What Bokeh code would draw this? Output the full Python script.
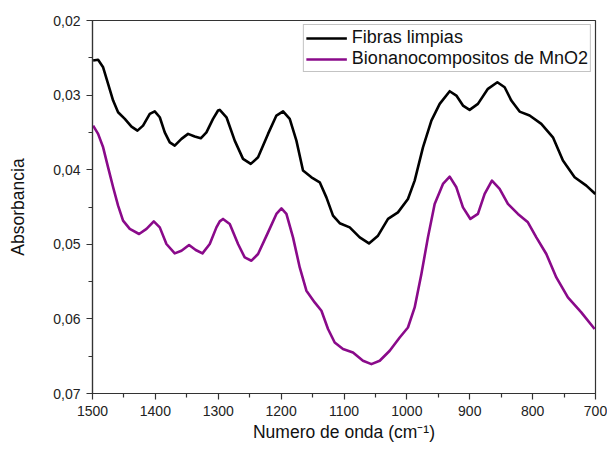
from bokeh.plotting import figure
from bokeh.models import Range1d, FixedTicker, CustomJSTickFormatter, Legend, LegendItem
from bokeh.embed import file_html
from bokeh.resources import INLINE

# Wavenumber (cm-1) and absorbance readings
fibras_x = [1499.0, 1491.1, 1483.1, 1475.2, 1467.2, 1459.3, 1448.6, 1438.0, 1428.5, 1419.6,
            1408.9, 1401.0, 1393.0, 1385.1, 1377.1, 1369.2, 1358.5, 1348.0, 1337.4, 1327.8,
            1318.8, 1308.3, 1300.3, 1297.6, 1286.9, 1273.8, 1260.6, 1248.3, 1236.7, 1220.8,
            1207.5, 1196.9, 1186.3, 1175.7, 1165.2, 1151.8, 1138.6, 1128.0, 1117.5, 1106.8,
            1090.9, 1075.0, 1060.3, 1045.9, 1030.0, 1014.2, 998.3, 987.6, 974.4, 961.0,
            947.8, 931.9, 921.3, 910.8, 900.2, 887.0, 871.1, 856.1, 844.5, 833.9,
            820.7, 804.8, 786.2, 767.7, 751.8, 733.2, 714.6, 700.3]
fibras_y = [0.02537, 0.02527, 0.02627, 0.02849, 0.03073, 0.03230, 0.03319, 0.03422, 0.03476, 0.03409,
            0.03252, 0.03217, 0.03297, 0.03499, 0.03633, 0.03677, 0.03587, 0.03520, 0.03556, 0.03579,
            0.03499, 0.03319, 0.03207, 0.03198, 0.03297, 0.03610, 0.03855, 0.03922, 0.03834, 0.03520,
            0.03274, 0.03217, 0.03319, 0.03610, 0.04012, 0.04102, 0.04169, 0.04371, 0.04616, 0.04717,
            0.04773, 0.04907, 0.04988, 0.04884, 0.04660, 0.04572, 0.04392, 0.04146, 0.03700, 0.03342,
            0.03118, 0.02948, 0.03006, 0.03140, 0.03198, 0.03118, 0.02916, 0.02828, 0.02895, 0.03073,
            0.03221, 0.03274, 0.03386, 0.03566, 0.03878, 0.04102, 0.04214, 0.04325]

mno2_x = [1499.0, 1491.1, 1483.1, 1475.2, 1467.2, 1459.3, 1451.4, 1440.7, 1425.9, 1414.1,
          1402.5, 1393.0, 1382.4, 1369.2, 1358.5, 1346.4, 1335.8, 1325.1, 1313.5, 1302.9,
          1297.6, 1292.4, 1281.7, 1268.5, 1257.9, 1247.2, 1236.7, 1220.8, 1207.5, 1199.5,
          1191.6, 1181.1, 1170.4, 1159.8, 1146.6, 1135.9, 1125.4, 1114.8, 1101.6, 1085.7,
          1069.8, 1056.4, 1043.2, 1027.3, 1011.4, 998.3, 987.6, 976.9, 966.5, 955.8,
          942.6, 931.9, 921.3, 910.8, 899.0, 887.0, 876.3, 864.7, 852.5, 839.3,
          823.4, 807.5, 794.1, 778.2, 762.3, 743.9, 722.6, 701.4]
mno2_y = [0.03409, 0.03520, 0.03700, 0.03968, 0.04236, 0.04482, 0.04683, 0.04794, 0.04862, 0.04794,
          0.04693, 0.04773, 0.04996, 0.05122, 0.05086, 0.05009, 0.05076, 0.05122, 0.04996, 0.04773,
          0.04693, 0.04660, 0.04727, 0.04996, 0.05176, 0.05220, 0.05130, 0.04840, 0.04593, 0.04518,
          0.04593, 0.04907, 0.05310, 0.05622, 0.05779, 0.05891, 0.06136, 0.06316, 0.06404, 0.06450,
          0.06561, 0.06606, 0.06561, 0.06427, 0.06249, 0.06115, 0.05846, 0.05398, 0.04907, 0.04459,
          0.04191, 0.04093, 0.04236, 0.04505, 0.04660, 0.04593, 0.04325, 0.04146, 0.04258, 0.04459,
          0.04593, 0.04706, 0.04907, 0.05130, 0.05444, 0.05712, 0.05913, 0.06136]

x_ticks = [700, 800, 900, 1000, 1100, 1200, 1300, 1400, 1500]
x_minor = [750, 850, 950, 1050, 1150, 1250, 1350, 1450]
y_ticks = [0.02, 0.03, 0.04, 0.05, 0.06, 0.07]
y_minor = [0.025, 0.035, 0.045, 0.055, 0.065]

series_names = ["Fibras limpias", "Bionanocompositos de MnO2"]
series_colors = ["#000000", "#8a0a8a"]

FONT = "Liberation Sans"
AX = "#333333"

p = figure(frame_width=503, frame_height=373, output_backend="svg", toolbar_location=None,
           x_range=Range1d(1500, 700), y_range=Range1d(0.07, 0.02),
           min_border_left=92, min_border_top=20, min_border_right=12, min_border_bottom=56)
p.background_fill_color = "white"
p.border_fill_color = "white"
p.outline_line_color = AX
p.outline_line_width = 1.2
p.xgrid.visible = False
p.ygrid.visible = False

r1 = p.line(fibras_x, fibras_y, line_color=series_colors[0], line_width=2.6, line_join="round")
r2 = p.line(mno2_x, mno2_y, line_color=series_colors[1], line_width=2.6, line_join="round")

xa = p.xaxis[0]
xa.ticker = FixedTicker(ticks=x_ticks, minor_ticks=x_minor)
xa.axis_label = "Numero de onda (cm⁻¹)"
ya = p.yaxis[0]
ya.ticker = FixedTicker(ticks=y_ticks, minor_ticks=y_minor)
ya.formatter = CustomJSTickFormatter(code="return tick.toFixed(2).replace('.', ',');")
ya.axis_label = "Absorbancia"

for ax in (xa, ya):
    ax.axis_line_color = AX
    ax.axis_line_width = 1.2
    ax.major_tick_line_color = AX
    ax.minor_tick_line_color = AX
    ax.major_tick_line_width = 1.2
    ax.minor_tick_line_width = 1.2
    ax.major_tick_out = 6
    ax.major_tick_in = 0
    ax.minor_tick_out = 4
    ax.minor_tick_in = 0
    ax.major_label_text_font = FONT
    ax.major_label_text_font_size = "14px"
    ax.major_label_text_color = "#222222"
    ax.major_label_standoff = 6
    ax.axis_label_text_font = FONT
    ax.axis_label_text_font_size = "17.5px"
    ax.axis_label_text_font_style = "normal"
    ax.axis_label_text_color = "#111111"

xa.axis_label_standoff = 3
ya.axis_label_standoff = 22

legend = Legend(items=[LegendItem(label=series_names[0], renderers=[r1]),
                       LegendItem(label=series_names[1], renderers=[r2])],
                location="top_right")
legend.margin = 4
legend.padding = 2
legend.spacing = 0
legend.glyph_width = 41
legend.glyph_height = 20
legend.label_height = 20
legend.label_standoff = 5
legend.label_text_font = FONT
legend.label_text_font_size = "18px"
legend.label_text_color = "#111111"
legend.border_line_color = "#888888"
legend.border_line_width = 1
legend.background_fill_color = "white"
legend.background_fill_alpha = 1.0
p.add_layout(legend, "center")

open("out.html", "w").write(file_html(p, INLINE))
